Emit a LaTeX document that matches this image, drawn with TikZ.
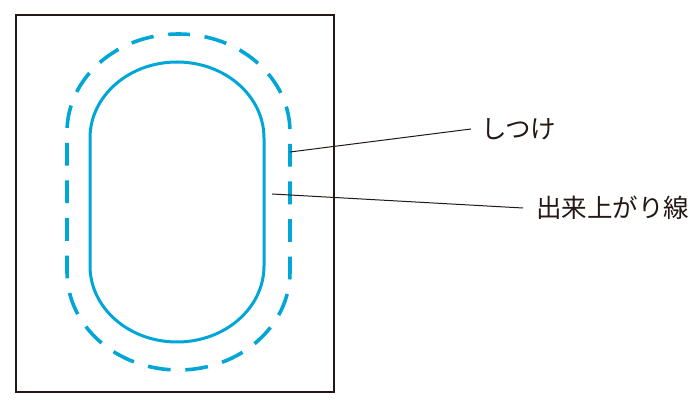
\documentclass[tikz,border=0pt]{standalone}
\usepackage{fontspec}
\newfontfamily\jpfont{Noto Sans CJK JP}
\definecolor{seamblue}{RGB}{0,166,214}
\definecolor{inkline}{RGB}{35,24,21}

\begin{document}
\begin{tikzpicture}[x=1pt,y=1pt,
        outline/.style={draw=inkline, line width=2pt},
        finish/.style={draw=seamblue, line width=3pt},
        stitch/.style={draw=seamblue, line width=3.6pt, dash pattern=on 22.8pt off 14.8pt, dash phase=11.4pt},
        leader/.style={draw=inkline, line width=1pt},
        label/.style={font=\jpfont\fontsize{25.5}{25.5}\selectfont, text=inkline, anchor=west, inner ysep=0pt}]
        \useasboundingbox (0,0) rectangle (694,404);
        \draw[outline] (16,12) rectangle (334,389); %fabric
        \draw[finish] (264,266) arc[start angle=0, end angle=180, x radius=87, y radius=76]
            -- (90,138) arc[start angle=180, end angle=360, x radius=87, y radius=76] -- cycle;
        \draw[stitch] (178.5,370) arc[start angle=90, end angle=0, x radius=111.5, y radius=98]
            -- (290,132) arc[start angle=0, end angle=-180, x radius=111.5, y radius=98]
            -- (67,272) arc[start angle=180, end angle=90, x radius=111.5, y radius=98];
        \coordinate (stitchpt) at (290,252);
        \coordinate (finishpt) at (272,210);
        \node[label, inner xsep=10pt] (shitsuke) at (471,275) {しつけ};
        \node[label, inner xsep=13pt] (dekiagari) at (523,196) {出来上がり線};
        \draw[leader] (stitchpt) -- (shitsuke.west);
        \draw[leader] (finishpt) -- (dekiagari.west);
    \end{tikzpicture}
\end{document}
